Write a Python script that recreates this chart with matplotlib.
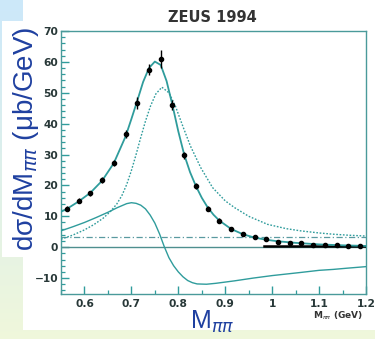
import numpy as np
import matplotlib
matplotlib.use("Agg")
import matplotlib.pyplot as plt
from matplotlib.patches import Rectangle
from matplotlib.ticker import MultipleLocator

# ---- data ----
mass = [0.5625, 0.5875, 0.6125, 0.6375, 0.6625, 0.6875, 0.7125, 0.7375, 0.7625,
        0.7875, 0.8125, 0.8375, 0.8625, 0.8875, 0.9125, 0.9375, 0.9625, 0.9875,
        1.0125, 1.0375, 1.0625, 1.0875, 1.1125, 1.1375, 1.1625, 1.1875]
xsec = [12.5, 15.0, 17.5, 21.7, 27.3, 36.7, 46.8, 57.5, 60.9,
        46.0, 29.7, 19.9, 12.5, 8.6, 5.8, 4.3, 3.2, 2.5,
        1.8, 1.5, 1.2, 0.6, 0.6, 0.6, 0.5, 0.3]
xsec_err = [0.8, 0.8, 0.8, 0.9, 1.0, 1.2, 1.9, 1.8, 3.0,
            1.6, 1.2, 1.0, 0.8, 0.7, 0.6, 0.5, 0.5, 0.4,
            0.4, 0.4, 0.4, 0.3, 0.3, 0.3, 0.3, 0.3]

fit_x = [0.55, 0.5625, 0.5875, 0.6125, 0.6375, 0.6625, 0.6875, 0.70, 0.7125, 0.725,
         0.7375, 0.75, 0.7625, 0.775, 0.7875, 0.80, 0.8125, 0.825, 0.8375, 0.85,
         0.8625, 0.875, 0.8875, 0.9125, 0.9375, 0.9625, 0.9875, 1.0125, 1.05, 1.10,
         1.15, 1.20]
fit_y = [11.5, 12.4, 14.8, 17.6, 21.5, 27.2, 35.8, 41.5, 47.4, 53.5,
         58.0, 60.1, 59.0, 53.8, 46.0, 37.5, 30.0, 24.3, 19.8, 16.0,
         12.9, 10.5, 8.6, 5.9, 4.2, 3.1, 2.4, 1.9, 1.4, 0.9,
         0.6, 0.4]

bw_x = [0.55, 0.575, 0.60, 0.62, 0.64, 0.655, 0.669, 0.68, 0.69, 0.70, 0.71, 0.719,
        0.73, 0.741, 0.752, 0.765, 0.78, 0.794, 0.81, 0.826, 0.848, 0.873, 0.90,
        0.92, 0.95, 0.99, 1.03, 1.06, 1.10, 1.13, 1.16, 1.20]
bw_y = [2.6, 3.9, 5.6, 7.3, 9.4, 11.5, 14.0, 16.8, 20.3, 24.8, 30.0, 35.0,
        40.8, 45.8, 49.6, 51.8, 50.0, 45.6, 39.0, 32.7, 25.7, 19.3, 15.0,
        12.8, 10.0, 7.4, 6.0, 5.3, 4.6, 4.2, 3.9, 3.6]

int_x = [0.55, 0.575, 0.60, 0.625, 0.65, 0.67, 0.69, 0.70, 0.71, 0.72, 0.73,
         0.74, 0.75, 0.76, 0.77, 0.78, 0.79, 0.80, 0.81, 0.82, 0.83,
         0.84, 0.86, 0.88, 0.92, 0.96, 1.00, 1.06, 1.10, 1.13, 1.16, 1.20]
int_y = [5.3, 6.6, 8.0, 9.6, 11.3, 12.8, 14.1, 14.4, 14.2, 13.6, 12.4,
         10.4, 7.8, 4.3, 0.2, -3.4, -6.0, -8.0, -9.6, -10.8, -11.5,
         -11.9, -12.0, -11.7, -10.9, -10.0, -9.2, -8.2, -7.5, -7.2, -6.8, -6.3]

bg_x = [0.55, 1.20]
bg_y = [3.2, 3.2]

thick_x = [0.983, 1.20]
thick_y = [0.35, 0.35]

xticks = [0.6, 0.7, 0.8, 0.9, 1.0, 1.1, 1.2]
xtick_labels = ["0.6", "0.7", "0.8", "0.9", "1", "1.1", "1.2"]
yticks = [-10, 0, 10, 20, 30, 40, 50, 60, 70]

# ---- figure ----
W, H = 375, 339
fig = plt.figure(figsize=(W / 100, H / 100), dpi=100)

# background gradient
bg = fig.add_axes([0, 0, 1, 1], zorder=-10)
grad = np.linspace(0, 1, 256)[:, None]
top = np.array([0.80, 0.91, 0.98])
bot = np.array([0.94, 0.97, 0.86])
img = top[None, None, :] * (1 - grad[:, :, None]) + bot[None, None, :] * grad[:, :, None]
bg.imshow(img, aspect="auto", extent=[0, 1, 0, 1], origin="upper")
bg.set_xlim(0, 1)
bg.set_ylim(0, 1)
bg.axis("off")
# white panels
bg.add_patch(Rectangle((23 / W, 1 - 330 / H), 1 - 23 / W, 330 / H, color="white", lw=0))
bg.add_patch(Rectangle((2 / W, 1 - 257 / H), 60 / W, (257 - 21) / H, color="white", lw=0))

teal = "#2f9c9c"
ax = fig.add_axes([61 / W, 1 - 293.5 / H, (366 - 61) / W, (293.5 - 31) / H])
ax.set_xlim(0.55, 1.2)
ax.set_ylim(-15, 70)

ax.axhline(0, color="#4f8f8f", lw=1.0, zorder=2)
ax.plot(bg_x, bg_y, color="#5a9aa0", lw=0.9, dashes=(5, 2, 1, 2), zorder=2)
ax.plot(thick_x, thick_y, color="black", lw=1.8, zorder=3)
ax.plot(int_x, int_y, color=teal, lw=1.0, zorder=3)
ax.plot(bw_x, bw_y, color=teal, lw=1.0, ls=(0, (1.2, 1.2)), zorder=3)
ax.plot(fit_x, fit_y, color=teal, lw=1.3, zorder=4)
ax.errorbar(mass, xsec, yerr=xsec_err, fmt="o", color="black", ms=3.0,
            elinewidth=1.0, capsize=0, zorder=5)

for s in ax.spines.values():
    s.set_color("#4a9a9a")
    s.set_linewidth(1.0)

ax.set_xticks(xticks)
ax.set_xticklabels(xtick_labels)
ax.set_yticks(yticks)
ax.xaxis.set_minor_locator(MultipleLocator(0.05))
ax.yaxis.set_minor_locator(MultipleLocator(2))
ax.tick_params(which="both", direction="in", top=False, right=False, colors=teal,
               labelcolor="#283838")
ax.tick_params(which="major", length=6, width=1.0)
ax.tick_params(which="minor", length=3, width=0.9)
ax.tick_params(axis="x", pad=4)
ax.tick_params(axis="y", pad=2)
for lab in ax.get_xticklabels() + ax.get_yticklabels():
    lab.set_fontfamily("DejaVu Sans")
    lab.set_fontweight("bold")
    lab.set_fontsize(7.7)

fig.text(212 / W, 1 - 18 / H, "ZEUS 1994", ha="center", va="center",
         fontsize=10.5, fontweight="bold", color="#333333", family="DejaVu Sans")
fig.text(363 / W, 1 - 316 / H, r"M$_{\pi\pi}$ (GeV)", ha="right", va="center",
         fontsize=6.5, fontweight="bold", color="#333333", family="DejaVu Sans")

blue = "#1f40a0"
fig.text(26 / W, 1 - 139 / H, "dσ/dM$_{\\pi\\pi}$ (μb/GeV)", rotation=90,
         ha="center", va="center", fontsize=20, color=blue, family="Liberation Sans")
fig.text(212 / W, 1 - 322 / H, r"M$_{\pi\pi}$", ha="center", va="center",
         fontsize=18, color=blue, family="Liberation Sans")

fig.savefig("out.png", dpi=100)
